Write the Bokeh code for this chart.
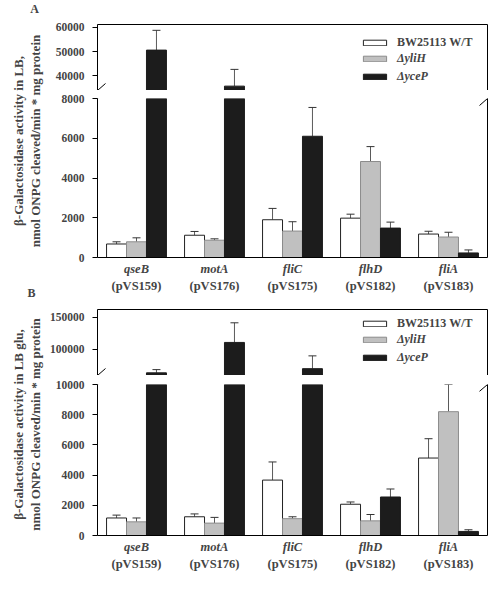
from math import pi
from bokeh.plotting import figure
from bokeh.models import (FactorRange, Range1d, LinearAxis, CategoricalAxis, FixedTicker,
                          NumeralTickFormatter, Whisker, TeeHead, Arrow, Legend, LegendItem,
                          Label, ColumnDataSource)
from bokeh.transform import dodge
from bokeh.layouts import row, column
from bokeh.embed import file_html
from bokeh.resources import INLINE

# ---------------- data ----------------
genes = ["qseB", "motA", "fliC", "flhD", "fliA"]
plasmids = ["(pVS159)", "(pVS176)", "(pVS175)", "(pVS182)", "(pVS183)"]
strains = ["BW25113 W/T", "\u0394yliH", "\u0394yceP"]

# Panel A (LB)
a_wt = [680, 1120, 1900, 1980, 1180]
a_wt_err = [110, 190, 570, 200, 140]
a_yliH = [790, 870, 1330, 4830, 1030]
a_yliH_err = [200, 70, 470, 750, 240]
a_yceP = [50650, 35800, 6100, 1480, 230]
a_yceP_err = [8150, 6900, 1450, 300, 150]

# Panel B (LB glu)
b_wt = [1160, 1240, 3670, 2070, 5130]
b_wt_err = [190, 190, 1200, 150, 1280]
b_yliH = [905, 820, 1115, 970, 8200]
b_yliH_err = [255, 380, 125, 420, 1800]
b_yceP = [62400, 110400, 69000, 2550, 270]
b_yceP_err = [5100, 31000, 20200, 530, 110]

a_lower_ticks = [0, 2000, 4000, 6000, 8000]
a_upper_ticks = [40000, 50000, 60000]
b_lower_ticks = [0, 2000, 4000, 6000, 8000, 10000]
b_upper_ticks = [100000, 150000]

a_lower_range = (0, 8000)
a_upper_range = (34000, 61200)
b_lower_range = (0, 10000)
b_upper_range = (58200, 162400)

y_title_a = ["\u03b2-Galactosidase activity in LB,", "nmol ONPG cleaved/min * mg protein"]
y_title_b = ["\u03b2-Galactosidase activity in LB glu,", "nmol ONPG cleaved/min * mg protein"]

# ---------------- style ----------------
FONT = "Liberation Serif"
FILLS = ["white", "#c0c0c0", "#1c1c1c"]
LINES = ["#222222", "#8c8c8c", "#1c1c1c"]
BAR_W = 0.256
OFFS = [-BAR_W, 0.0, BAR_W]
STRIP_W = 46
FIG_W = 446
BORDER_L = 51
BORDER_R = 5
FRAME_W = FIG_W - BORDER_L - BORDER_R
X_PER_PX = len(genes) / FRAME_W

xr = FactorRange(*genes, range_padding=0)


def base_fig(height, yrng, top, bottom):
    p = figure(width=FIG_W, height=height, x_range=xr, y_range=Range1d(*yrng),
               output_backend="svg", toolbar_location=None,
               x_axis_location=None, y_axis_location=None,
               min_border_left=BORDER_L, min_border_right=BORDER_R,
               min_border_top=top, min_border_bottom=bottom,
               outline_line_color=None, background_fill_color="white",
               border_fill_color="white")
    p.grid.visible = False
    return p


def add_y_axes(p, ticks):
    ax = LinearAxis(ticker=FixedTicker(ticks=ticks),
                    formatter=NumeralTickFormatter(format="0"),
                    major_tick_out=5, major_tick_in=0,
                    minor_tick_line_color=None,
                    major_label_standoff=8,
                    major_label_text_font=FONT,
                    major_label_text_font_style="bold",
                    major_label_text_font_size="11.5px",
                    axis_line_color="black", major_tick_line_color="black")
    p.add_layout(ax, "left")
    rax = LinearAxis(ticker=FixedTicker(ticks=[]), major_tick_out=0, major_tick_in=0,
                     major_label_standoff=0, minor_tick_line_color=None,
                     axis_line_color="black")
    p.add_layout(rax, "right")


def add_bars(p, series, errs, keep):
    rends = []
    for k in range(3):
        vals = series[k]
        src = ColumnDataSource(dict(gene=genes, val=vals))
        r = p.vbar(x=dodge("gene", OFFS[k], range=xr), top="val", bottom=0,
                   width=BAR_W, source=src, fill_color=FILLS[k],
                   line_color=LINES[k], line_width=1)
        rends.append(r)
        sel = [i for i, v in enumerate(vals) if keep(v)]
        if sel:
            wsrc = ColumnDataSource(dict(
                gene=[genes[i] for i in sel],
                val=[vals[i] for i in sel],
                up=[vals[i] + errs[k][i] for i in sel]))
            w = Whisker(base=dodge("gene", OFFS[k], range=xr), lower="val", upper="up",
                        source=wsrc, dimension="height", lower_head=None,
                        upper_head=TeeHead(size=8, line_color="#333333", line_width=1),
                        line_color="#5a5a5a", line_width=1)
            p.add_layout(w)
    return rends


def add_slashes(p, centers, ypp):
    dx = 8 * X_PER_PX
    dy = 7 * ypp
    for yc in centers:
        for xc in (0, len(genes)):
            p.add_layout(Arrow(end=None, x_start=xc - dx, y_start=yc - dy,
                               x_end=xc + dx, y_end=yc + dy,
                               line_color="black", line_width=1))


def make_panel(series, errs, lower_rng, upper_rng, lower_ticks, upper_ticks,
               up_top, up_frame, gap, lo_frame, lo_bottom, legend_top):
    # upper segment
    up = base_fig(up_top + up_frame, upper_rng, up_top, 0)
    add_y_axes(up, upper_ticks)
    tax = LinearAxis(ticker=FixedTicker(ticks=[]), major_tick_out=0, major_tick_in=0,
                     major_label_standoff=0, minor_tick_line_color=None,
                     axis_line_color="black")
    up.add_layout(tax, "above")
    rends = add_bars(up, series, errs, lambda v: v > lower_rng[1])

    # legend
    item_h = 14
    sp = 3
    lx = 263
    top1 = legend_top - item_h / 2
    bottom1 = top1 + item_h
    bottom2 = top1 + 3 * item_h + 2 * sp
    common = dict(glyph_width=29, glyph_height=7, label_height=item_h,
                  label_standoff=8, spacing=sp, padding=0, margin=0,
                  border_line_color=None, background_fill_alpha=0,
                  label_text_font=FONT, label_text_font_size="12px")
    leg1 = Legend(items=[LegendItem(label=strains[0], renderers=[rends[0]])],
                  location=(lx, up_frame - bottom1), label_text_font_style="bold", **common)
    leg2 = Legend(items=[LegendItem(label=strains[1], renderers=[rends[1]]),
                         LegendItem(label=strains[2], renderers=[rends[2]])],
                  location=(lx, up_frame - bottom2), label_text_font_style="bold italic",
                  **common)
    up.add_layout(leg1)
    up.add_layout(leg2)

    # lower segment
    lo = base_fig(gap + lo_frame + lo_bottom, lower_rng, gap, lo_bottom)
    lo.extra_x_ranges = {"plasmid": FactorRange(*plasmids, range_padding=0)}
    add_y_axes(lo, lower_ticks)
    gax = CategoricalAxis(major_tick_line_color=None, major_tick_out=0, major_tick_in=0,
                          minor_tick_line_color=None, major_label_standoff=4,
                          major_label_text_font=FONT,
                          major_label_text_font_style="bold italic",
                          major_label_text_font_size="12.5px",
                          axis_line_color="black")
    lo.add_layout(gax, "below")
    pax = CategoricalAxis(x_range_name="plasmid",
                          major_tick_line_color=None, major_tick_out=0, major_tick_in=0,
                          minor_tick_line_color=None, major_label_standoff=0,
                          major_label_text_font=FONT,
                          major_label_text_font_style="bold",
                          major_label_text_font_size="12.5px",
                          axis_line_color=None)
    lo.add_layout(pax, "below")
    add_bars(lo, series, errs, lambda v: v <= lower_rng[1])

    # break marks
    upp = (upper_rng[1] - upper_rng[0]) / up_frame
    lpp = (lower_rng[1] - lower_rng[0]) / lo_frame
    add_slashes(up, [upper_rng[0], upper_rng[0] - gap * upp], upp)
    add_slashes(lo, [lower_rng[1], lower_rng[1] + gap * lpp], lpp)
    return up, lo


A_DIMS = dict(up_top=24, up_frame=66, gap=8, lo_frame=159, lo_bottom=38, legend_top=19)
B_DIMS = dict(up_top=14, up_frame=66, gap=9, lo_frame=155, lo_bottom=34, legend_top=15)

upA, loA = make_panel([a_wt, a_yliH, a_yceP], [a_wt_err, a_yliH_err, a_yceP_err],
                      a_lower_range, a_upper_range, a_lower_ticks, a_upper_ticks, **A_DIMS)
upB, loB = make_panel([b_wt, b_yliH, b_yceP], [b_wt_err, b_yliH_err, b_yceP_err],
                      b_lower_range, b_upper_range, b_lower_ticks, b_upper_ticks, **B_DIMS)

H_A = sum(A_DIMS[k] for k in ("up_top", "up_frame", "gap", "lo_frame", "lo_bottom"))
H_B = sum(B_DIMS[k] for k in ("up_top", "up_frame", "gap", "lo_frame", "lo_bottom"))
TOTAL_H = H_A + H_B

# left strip with panel letters and y-axis titles
t = figure(width=STRIP_W, height=TOTAL_H, x_range=Range1d(0, STRIP_W),
           y_range=Range1d(0, TOTAL_H),
           output_backend="svg", toolbar_location=None,
           x_axis_location=None, y_axis_location=None, min_border=0,
           outline_line_color=None, background_fill_color="white", border_fill_color="white")
t.grid.visible = False

# vertical centres of each panel's plotting area (content pixels from top)
cA = A_DIMS["up_top"] + (A_DIMS["up_frame"] + A_DIMS["gap"] + A_DIMS["lo_frame"]) / 2
cB = H_A + B_DIMS["up_top"] + (B_DIMS["up_frame"] + B_DIMS["gap"] + B_DIMS["lo_frame"]) / 2

for txt, px, py in (("A", 34, 8), ("B", 31, H_A - 3)):
    t.add_layout(Label(x=px, y=TOTAL_H - py, text=txt, text_font=FONT,
                       text_font_style="bold", text_font_size="12px",
                       text_align="center", text_baseline="middle"))

for lines, cy in ((y_title_a, cA), (y_title_b, cB)):
    for j, ln in enumerate(lines):
        t.add_layout(Label(x=18 + 17 * j, y=TOTAL_H - cy, text=ln, angle=pi / 2,
                           text_font=FONT, text_font_style="bold", text_font_size="13px",
                           text_align="center", text_baseline="middle"))

layout = row(t, column(upA, loA, upB, loB, spacing=0), spacing=0)

open("out.html", "w").write(file_html(layout, INLINE))
